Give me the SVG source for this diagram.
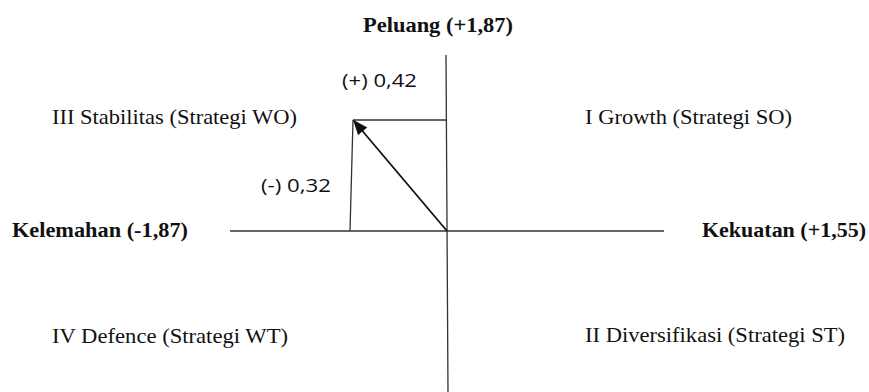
<svg xmlns="http://www.w3.org/2000/svg" width="869" height="392" viewBox="0 0 869 392">
<defs>
<style>
.q{font-family:"Liberation Serif","Times New Roman",serif;font-size:22px;fill:#111}
.b{font-family:"Liberation Serif","Times New Roman",serif;font-size:22px;font-weight:bold;fill:#111}
.v{font-family:"Open Sans","Liberation Sans",sans-serif;font-size:18px;fill:#111}
.ax{stroke:#333;stroke-width:1.3;fill:none}
</style>
<marker id="ah" viewBox="0 0 10 10" refX="9" refY="5" markerWidth="15" markerHeight="15" orient="auto" markerUnits="userSpaceOnUse">
<path d="M0,1 L10,5 L0,9 z" fill="#111"/>
</marker>
</defs>
<rect width="869" height="392" fill="#fff"/>
<g id="connectors">
<line class="ax" x1="446" y1="55" x2="448" y2="392"/>
<line class="ax" x1="230" y1="231" x2="664" y2="231"/>
<line class="ax" x1="353" y1="120" x2="446" y2="120"/>
<line class="ax" x1="353" y1="120" x2="350" y2="231"/>
<line x1="447" y1="231" x2="354" y2="121" stroke="#111" stroke-width="1.8" marker-end="url(#ah)"/>
</g>
<g id="peluang"><text class="b" x="363" y="32" textLength="150" lengthAdjust="spacingAndGlyphs">Peluang (+1,87)</text></g>
<g id="kelemahan"><text class="b" x="12" y="237" textLength="176" lengthAdjust="spacingAndGlyphs">Kelemahan (-1,87)</text></g>
<g id="kekuatan"><text class="b" x="702" y="237" textLength="164" lengthAdjust="spacingAndGlyphs">Kekuatan (+1,55)</text></g>
<g id="q3"><text class="q" x="52" y="124" textLength="245" lengthAdjust="spacingAndGlyphs">III Stabilitas (Strategi WO)</text></g>
<g id="q1"><text class="q" x="585" y="124" textLength="207" lengthAdjust="spacingAndGlyphs">I Growth (Strategi SO)</text></g>
<g id="q4"><text class="q" x="52" y="343" textLength="236" lengthAdjust="spacingAndGlyphs">IV Defence (Strategi WT)</text></g>
<g id="q2"><text class="q" x="585" y="342" textLength="260" lengthAdjust="spacingAndGlyphs">II Diversifikasi (Strategi ST)</text></g>
<g id="v1"><text class="v" x="342" y="87" textLength="75" lengthAdjust="spacingAndGlyphs">(+) 0,42</text></g>
<g id="v2"><text class="v" x="261" y="192" textLength="70" lengthAdjust="spacingAndGlyphs">(-) 0,32</text></g>
</svg>
